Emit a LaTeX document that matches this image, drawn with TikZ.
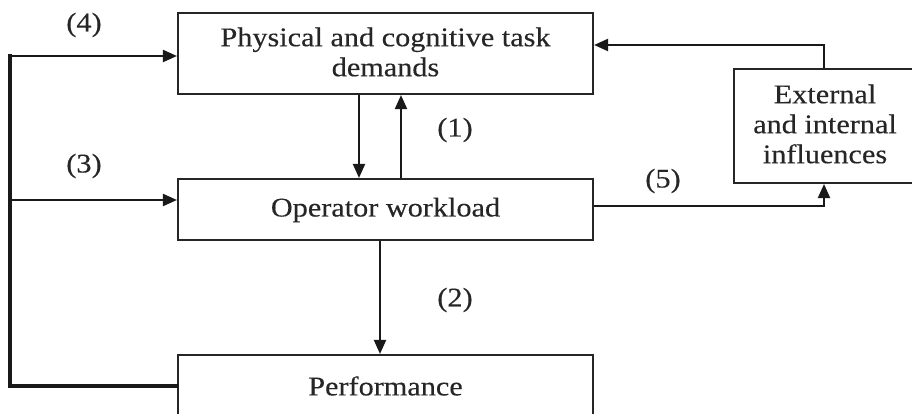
\documentclass[tikz,border=0pt]{standalone}
\usepackage{fontspec}
\setmainfont{Liberation Serif}[FakeStretch=1.12,FakeBold=0.3]
\usetikzlibrary{arrows.meta}
\begin{document}
\begin{tikzpicture}[x=1pt,y=1pt,
  txt/.style={font=\fontsize{27}{30}\selectfont, text=black!85, align=center},
  box/.style={draw=black!85, line width=2.1pt, rectangle, inner sep=0pt, txt},
  arr/.style={draw=black!90, line width=2.1pt, -{Triangle[length=14pt,width=12pt]}},
  fb/.style={draw=black!90, line width=4pt},
  lbl/.style={txt, inner sep=0pt}]
\useasboundingbox (0,0) rectangle (912,414);
\clip (0,0) rectangle (912,414);
% boxes
\node[box, minimum width=415pt, minimum height=81pt] (dem) at (385.5,360.5) {};
\node[txt] at (385.5,362) {Physical and cognitive task\\demands};
\node[box, minimum width=415pt, minimum height=61pt] (wl) at (385.5,204.5) {};
\node[txt] at (385.5,204) {Operator workload};
\node[box, minimum width=415pt, minimum height=63pt] (perf) at (385.5,27.5) {};
\node[txt] at (385.5,28) {Performance};
\node[box, minimum width=182pt, minimum height=114pt] (ext) at (825,288) {};
\node[txt] at (825,290) {External\\and internal\\influences};
% labels
\node[lbl] (l1) at (455,284) {(1)};
\node[lbl] (l2) at (455,114) {(2)};
\node[lbl] (l3) at (84,248) {(3)};
\node[lbl] (l4) at (84,389) {(4)};
\node[lbl] (l5) at (663,233) {(5)};
% coordinates
\coordinate (a1) at (359,0);
\coordinate (a2) at (401,0);
\coordinate (a3) at (380,0);
\coordinate (ex) at (824,0);
\coordinate (exy) at (0,369);
\coordinate (wly) at (0,208);
\coordinate (cb) at (10,27.5);
\coordinate (ct) at (10,358);
\coordinate (cm) at (10,214);
% (1)
\draw[arr] (dem.south -| a1) -- (wl.north -| a1);
\draw[arr] (wl.north -| a2) -- (dem.south -| a2);
% (2)
\draw[arr] (wl.south -| a3) -- (perf.north -| a3);
% external -> demands
\draw[arr] (ext.north -| ex) -- (ex |- exy) -- (dem.east |- exy);
% (5)
\draw[arr] (wl.east |- wly) -- (ex |- wly) -- (ext.south -| ex);
% feedback loop
\draw[fb, line cap=rect] (perf.west) -- (cb) -- (ct);
\draw[arr] (ct) -- (dem.west |- ct);
\draw[arr] (cm) -- (wl.west |- cm);
\end{tikzpicture}
\end{document}
